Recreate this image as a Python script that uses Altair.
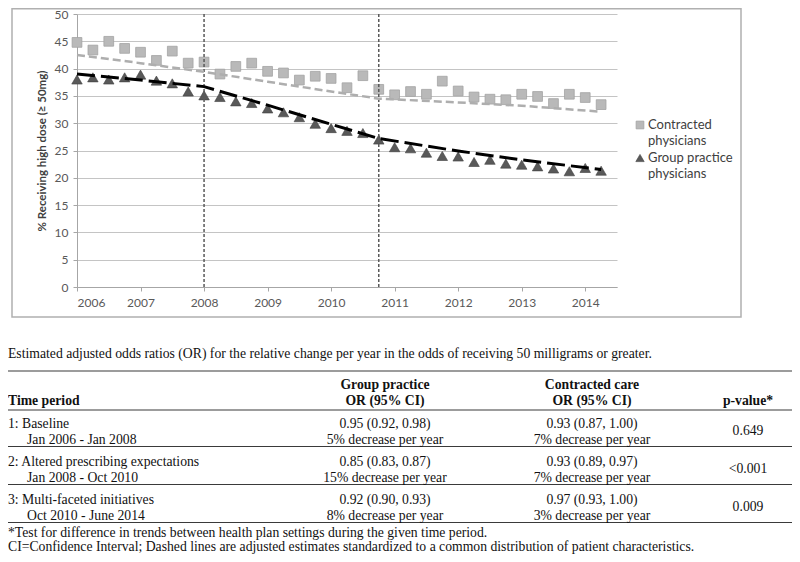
import altair as alt
import pandas as pd

# ---------------- data ----------------
quarters = [2006.0, 2006.25, 2006.5, 2006.75, 2007.0, 2007.25, 2007.5, 2007.75,
            2008.0, 2008.25, 2008.5, 2008.75, 2009.0, 2009.25, 2009.5, 2009.75,
            2010.0, 2010.25, 2010.5, 2010.75, 2011.0, 2011.25, 2011.5, 2011.75,
            2012.0, 2012.25, 2012.5, 2012.75, 2013.0, 2013.25, 2013.5, 2013.75,
            2014.0, 2014.25]
contracted = [44.8, 43.4, 45.0, 43.7, 43.0, 41.5, 43.2, 41.0,
              41.2, 39.0, 40.4, 41.0, 39.5, 39.2, 37.9, 38.6,
              38.2, 36.5, 38.7, 36.2, 35.2, 35.8, 35.3, 37.7,
              35.9, 34.8, 34.4, 34.3, 35.3, 34.9, 33.6, 35.3,
              34.7, 33.4]
group = [38.0, 38.4, 38.0, 38.4, 38.9, 37.8, 37.3, 35.8,
         35.1, 34.8, 34.0, 33.7, 32.7, 32.0, 31.1, 29.9,
         29.1, 28.6, 28.2, 27.0, 25.6, 25.4, 24.6, 24.0,
         23.9, 22.9, 23.3, 22.6, 22.4, 22.1, 21.7, 21.2,
         21.8, 21.3]

fit_years = [2006.0, 2007.0, 2008.0, 2009.0, 2010.0, 2010.75, 2012.0, 2013.0, 2014.25]
group_fit = [39.0, 37.9, 36.7, 33.3, 29.8, 27.2, 24.9, 23.3, 21.5]
contracted_fit = [42.5, 41.0, 39.4, 37.6, 35.8, 34.5, 33.8, 33.2, 32.1]

period_breaks = [2008.0, 2010.75]
series_names = ["Contracted physicians", "Group practice physicians"]

x_ticks = [2006, 2007, 2008, 2009, 2010, 2011, 2012, 2013, 2014]
y_ticks = [0, 5, 10, 15, 20, 25, 30, 35, 40, 45, 50]
y_title = "% Receiving high dose (\u2265 50mg)"

caption = ("Estimated adjusted odds ratios (OR) for the relative change per year "
           "in the odds of receiving 50 milligrams or greater.")
header_time = "Time period"
header_group = ["Group practice", "OR (95% CI)"]
header_contracted = ["Contracted care", "OR (95% CI)"]
header_p = "p-value*"
period_names = ["1: Baseline", "2: Altered prescribing expectations", "3: Multi-faceted initiatives"]
period_ranges = ["Jan 2006 - Jan 2008", "Jan 2008 - Oct 2010", "Oct 2010 - June 2014"]
group_or = ["0.95 (0.92, 0.98)", "0.85 (0.83, 0.87)", "0.92 (0.90, 0.93)"]
group_change = ["5% decrease per year", "15% decrease per year", "8% decrease per year"]
contracted_or = ["0.93 (0.87, 1.00)", "0.93 (0.89, 0.97)", "0.97 (0.93, 1.00)"]
contracted_change = ["7% decrease per year", "7% decrease per year", "3% decrease per year"]
p_values = ["0.649", "<0.001", "0.009"]
footnotes = ["*Test for difference in trends between health plan settings during the given time period.",
             "CI=Confidence Interval; Dashed lines are adjusted estimates standardized to a common distribution of patient characteristics."]

# ---------------- layout ----------------
PLOT_LEFT, PLOT_TOP = 77, 14      # page coordinates of plot origin
W, H = 540, 273
def px(x): return x - PLOT_LEFT
def py(y): return y - PLOT_TOP

pts = pd.DataFrame({
    "year": quarters * 2,
    "pct": contracted + group,
    "series": [series_names[0]] * len(quarters) + [series_names[1]] * len(quarters),
})
fit_c = pd.DataFrame({"year": fit_years, "pct": contracted_fit})
fit_g = pd.DataFrame({"year": fit_years, "pct": group_fit})
breaks = pd.DataFrame({"year": period_breaks})

xscale = alt.Scale(domain=[2006, 2014.5], nice=False, zero=False)
yscale = alt.Scale(domain=[0, 50], nice=False)

chart_font = "Lato"
xaxis = alt.Axis(values=x_ticks, format="d", title=None, grid=False, tickSize=4,
                 labelFont=chart_font, labelFontSize=12, labelColor="#595959",
                 domainColor="#a6a6a6", tickColor="#a6a6a6", labelPadding=6,
                 labelOverlap=False)
yaxis = alt.Axis(values=y_ticks, title=y_title, grid=True, gridColor="#c4c4c4",
                 tickSize=4, labelFont=chart_font, labelFontSize=12, labelColor="#595959",
                 domainColor="#a6a6a6", tickColor="#a6a6a6", labelPadding=5,
                 labelOverlap=False,
                 titleFont=chart_font, titleFontSize=11.5, titleFontWeight="bold",
                 titleColor="#404040", titleX=-35, titleBaseline="middle")
X = alt.X("year:Q", scale=xscale, axis=xaxis)
Y = alt.Y("pct:Q", scale=yscale, axis=yaxis)

one = pd.DataFrame({"a": [0]})
border = alt.Chart(one).mark_rect(
    fill="white", fillOpacity=0, stroke="#b0b0b0", strokeWidth=1.5).encode(
    x=alt.value(px(12)), x2=alt.value(px(741)),
    y=alt.value(py(8.8)), y2=alt.value(py(317)))

vlines = alt.Chart(breaks).mark_rule(color="#595959", strokeWidth=1.5, strokeDash=[3, 2]).encode(
    x=X)

squares = alt.Chart(pts).transform_filter(
    alt.datum.series == series_names[0]).mark_point(
    shape="square", filled=True, size=95, fill="#b9b9b9", stroke="#a3a3a3",
    strokeWidth=0.8, opacity=1).encode(x=X, y=Y)

triangles = alt.Chart(pts).transform_filter(
    alt.datum.series == series_names[1]).mark_point(
    shape="triangle-up", filled=True, size=110, fill="#595959", stroke="#404040",
    strokeWidth=0.6, opacity=1).encode(x=X, y=Y)

line_c = alt.Chart(fit_c).mark_line(color="#aeaeae", strokeWidth=2.5, strokeDash=[8, 4]).encode(
    x=X, y=Y)
line_g = alt.Chart(fit_g).mark_line(color="#000000", strokeWidth=3, strokeDash=[18, 6]).encode(
    x=X, y=Y)

plot = alt.layer(squares, triangles, vlines, line_c, line_g)

# manual legend
leg_font = dict(font=chart_font, fontSize=13, color="#404040", align="left", baseline="middle")
def split_name(n):
    i = n.rfind(" ")
    return [n[:i], n[i + 1:]]
leg_sq = alt.Chart(one).mark_point(shape="square", filled=True, size=60, fill="#b9b9b9",
                                    stroke="#a3a3a3", strokeWidth=0.8, opacity=1).encode(
    x=alt.value(px(640)), y=alt.value(py(125)))
leg_tri = alt.Chart(one).mark_point(shape="triangle-up", filled=True, size=70, fill="#595959",
                                     stroke="#404040", strokeWidth=0.6, opacity=1).encode(
    x=alt.value(px(640)), y=alt.value(py(158)))
leg_rows = []
for name, y0 in zip(series_names, [125, 158]):
    for k, part in enumerate(split_name(name)):
        leg_rows.append({"text": part, "px": px(648), "py": py(y0 + 15.5 * k)})
leg_text = alt.Chart(pd.DataFrame(leg_rows)).mark_text(**leg_font).encode(
    x=alt.X("px:Q", scale=None, axis=None), y=alt.Y("py:Q", scale=None, axis=None), text="text:N")

# table
row_y = [423.5, 461.5, 499.5]
line2 = 16
rules_y = [371, 410, 446.5, 484.5, 522.5]
c_group, c_contr, c_p = 385, 592, 748
left_x, indent_x = 8, 27

left_normal = [{"text": caption, "px": px(left_x), "py": py(354)}]
for i in range(3):
    left_normal.append({"text": period_names[i], "px": px(left_x), "py": py(row_y[i])})
    left_normal.append({"text": period_ranges[i], "px": px(indent_x), "py": py(row_y[i] + line2)})
left_normal.append({"text": footnotes[0], "px": px(left_x), "py": py(532.5)})
left_normal.append({"text": footnotes[1], "px": px(left_x), "py": py(546.5)})

left_bold = [{"text": header_time, "px": px(left_x), "py": py(400.5)}]
center_bold = [
    {"text": header_group[0], "px": px(c_group), "py": py(384.5)},
    {"text": header_group[1], "px": px(c_group), "py": py(400.5)},
    {"text": header_contracted[0], "px": px(c_contr), "py": py(384.5)},
    {"text": header_contracted[1], "px": px(c_contr), "py": py(400.5)},
    {"text": header_p, "px": px(c_p), "py": py(400.5)},
]
center_normal = []
for i in range(3):
    center_normal += [
        {"text": group_or[i], "px": px(c_group), "py": py(row_y[i])},
        {"text": group_change[i], "px": px(c_group), "py": py(row_y[i] + line2)},
        {"text": contracted_or[i], "px": px(c_contr), "py": py(row_y[i])},
        {"text": contracted_change[i], "px": px(c_contr), "py": py(row_y[i] + line2)},
        {"text": p_values[i], "px": px(c_p), "py": py(row_y[i] + line2 / 2 - 1)},
    ]

tfont = "Liberation Serif"
tsize = 13.7
def text_layer(rows, align, weight):
    return alt.Chart(pd.DataFrame(rows)).mark_text(
        font=tfont, fontSize=tsize, color="#111111", align=align, baseline="middle",
        fontWeight=weight).encode(
        x=alt.X("px:Q", scale=None, axis=None),
        y=alt.Y("py:Q", scale=None, axis=None),
        text="text:N")

rules = alt.Chart(pd.DataFrame({"py": [py(v) for v in rules_y]})).mark_rule(
    color="#3a3a3a", strokeWidth=1.2).encode(
    x=alt.value(px(8)), x2=alt.value(px(792)),
    y=alt.Y("py:Q", scale=None, axis=None))

chart = alt.layer(
    border, plot,
    leg_sq, leg_tri, leg_text,
    rules,
    text_layer(left_normal, "left", "normal"),
    text_layer(left_bold, "left", "bold"),
    text_layer(center_bold, "center", "bold"),
    text_layer(center_normal, "center", "normal"),
).resolve_scale(x="independent", y="independent").resolve_axis(
    x="independent", y="independent"
).properties(
    width=W, height=H,
    autosize=alt.AutoSizeParams(type="none"),
    padding={"left": PLOT_LEFT - 8, "top": PLOT_TOP - 8,
             "right": 784 - (PLOT_LEFT - 8) - W, "bottom": 546 - (PLOT_TOP - 8) - H},
    background="white",
).configure_view(stroke=None)

chart.save("out.html", embed_options={"renderer": "svg", "actions": False})
